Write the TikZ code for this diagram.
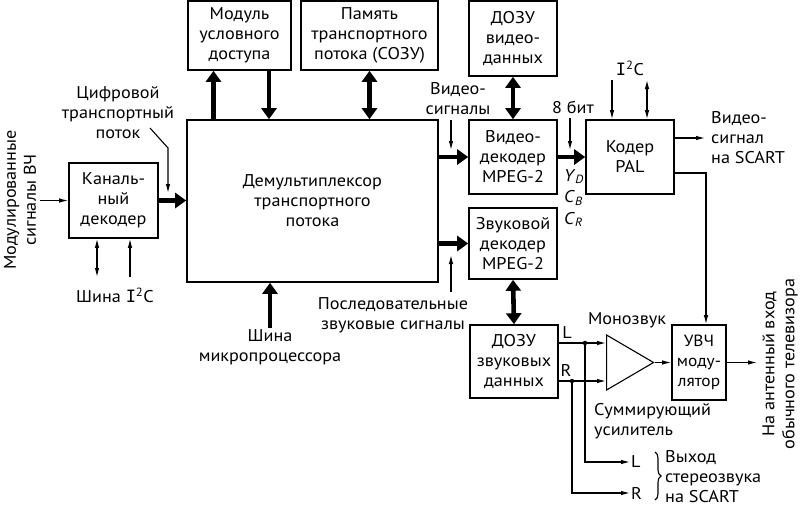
\documentclass[tikz,border=0pt]{standalone}
\usepackage{fontspec}
\setmainfont{PT Sans}[FakeStretch=1.07]
\newfontfamily\slabfont{DejaVu Sans Mono}
\usepackage{tikz}
\usetikzlibrary{arrows.meta, positioning, calc, shapes.geometric, decorations.pathreplacing}

\newcommand{\lblfont}{\fontsize{17}{20}\selectfont}
\newcommand{\busIIC}{{\slabfont I}\textsuperscript{2}C}

\tikzset{
  blk/.style={rectangle, draw, line width=1.6pt, align=center, inner sep=0pt, font=\lblfont},
  txt/.style={align=center, inner sep=1pt, font=\lblfont},
  bus/.style={line width=4.6pt, -{Triangle[length=11pt,width=15pt]}},
  busboth/.style={line width=4.6pt, {Triangle[length=11pt,width=15pt]}-{Triangle[length=11pt,width=15pt]}},
  sig/.style={line width=1.1pt, -{Latex[length=9pt,width=4.5pt]}},
  sigboth/.style={line width=1.1pt, {Latex[length=9pt,width=4.5pt]}-{Latex[length=9pt,width=4.5pt]}},
  wire/.style={line width=1.1pt},
  dot/.style={circle, fill, inner sep=0pt, minimum size=4.5pt}
}

\begin{document}
\begin{tikzpicture}[x=1pt, y=-1pt]
    \useasboundingbox (0,0) rectangle (800,507);

    % Blocks
    \node[blk, minimum width=89pt, minimum height=75pt] (chdec) at (113.5,200.5) {Каналь-\\ный\\декодер};
    \node[blk, minimum width=251pt, minimum height=162pt] (demux) at (312.5,201) {Демультиплексор\\транспортного\\потока};
    \node[blk, minimum width=103pt, minimum height=69pt] (cam) at (239.5,35.5) {Модуль\\условного\\доступа};
    \node[blk, minimum width=137pt, minimum height=69pt] (tsmem) at (369.5,35.5) {Память\\транспортного\\потока (СОЗУ)};
    \node[blk, minimum width=88pt, minimum height=75pt] (vram) at (513,38.5) {ДОЗУ\\видео-\\данных};
    \node[blk, minimum width=88pt, minimum height=74pt] (vdec) at (513,157) {Видео-\\декодер\\MPEG-2};
    \node[blk, minimum width=88pt, minimum height=74pt] (pal) at (630,157) {Кодер\\PAL};
    \node[blk, minimum width=88pt, minimum height=71pt] (adec) at (513,243.5) {Звуковой\\декодер\\MPEG-2};
    \node[blk, minimum width=88pt, minimum height=73pt] (aram) at (514,361.5) {ДОЗУ\\звуковых\\данных};
    \node[blk, minimum width=54pt, minimum height=75pt, font=\fontsize{16.2}{20}\selectfont] (uhf) at (699,362.5) {УВЧ\\моду-\\лятор};
    \node[isosceles triangle, isosceles triangle stretches, draw, line width=1.1pt, inner sep=0pt,
          minimum width=55pt, minimum height=47pt, anchor=lower side] (amp) at (606,362.5) {};

    % Labels
    \node[txt, rotate=90] (rflbl) at (20,200) {Модулированные\\сигналы ВЧ};
    \node[txt] (tslbl) at (118,113) {Цифровой\\транспортный\\поток};
    \node[txt] (i2clbl) at (115,295) {Шина \busIIC};
    \node[txt] (mplbl) at (270,347) {Шина\\микропроцессора};
    \node[txt] (vslbl) at (458,99) {Видео-\\сигналы};
    \node[txt] (aslbl) at (393,315) {Последовательные\\звуковые сигналы};
    \node[txt] (bitlbl) at (573,107) {8 бит};
    \node[txt, align=left, font=\fontsize{17}{21.5}\selectfont] (ycclbl) at (574,198)
        {\textit{Y}\textsubscript{\textit{D}}\\\textit{C}\textsubscript{\textit{B}}\\\textit{C}\textsubscript{\textit{R}}};
    \node[txt] (pali2c) at (630,68) {\busIIC};
    \node[txt, align=left, anchor=west] (voutlbl) at (710,138) {Видео-\\сигнал\\на SCART};
    \node[txt] (monolbl) at (627,320) {Монозвук};
    \node[txt] (llbl) at (567,333) {L};
    \node[txt] (rlbl) at (566,370) {R};
    \node[txt, align=left, anchor=west] (sumlbl) at (593,421) {Суммирующий\\усилитель};
    \node[txt, anchor=west] (outl) at (630,462) {L};
    \node[txt, anchor=west] (outr) at (630,493) {R};
    \node[txt, align=left, anchor=west] (stlbl) at (664,477) {Выход\\стереозвука\\на SCART};
    \node[txt, rotate=90] (antlbl) at (780,364) {На антенный вход\\обычного телевизора};

    % Free ends
    \coordinate (rfin) at (40,200.5);
    \coordinate (ts1) at (150,128);
    \coordinate (ts2) at (168,148);
    \coordinate (ts3) at (168,193);
    \coordinate (i2ca) at (97,277);
    \coordinate (i2cb) at (130,277);
    \coordinate (vs1) at (451,120);
    \coordinate (vs2) at (451,150);
    \coordinate (as1) at (451,292);
    \coordinate (as2) at (451,255);
    \coordinate (bit1) at (570,118);
    \coordinate (bit2) at (570,150);
    \coordinate (pi2ca) at (612,80);
    \coordinate (pi2cb) at (647,80);
    \coordinate (vout) at (705,138);
    \coordinate (ampl) at (606,343);
    \coordinate (ampr) at (606,381);
    \coordinate (antout) at (757,362.5);

    % Channel decoder
    \draw[sig] (rfin) -- (chdec.west);
    \draw[sigboth] (chdec.south -| i2ca) -- (i2ca);
    \draw[sig] (i2cb) -- (chdec.south -| i2cb);
    \draw[sig] (ts1) -- (ts2) -- (ts3);
    \draw[bus] (chdec.east) -- (chdec.east -| demux.west);

    % Demultiplexer
    \draw[bus] ([xshift=-26pt]cam.south |- demux.north) -- ([xshift=-26pt]cam.south);
    \draw[bus] ([xshift=29.5pt]cam.south) -- ([xshift=29.5pt]cam.south |- demux.north);
    \draw[busboth] (tsmem.south) -- (tsmem.south |- demux.north);
    \draw[bus] (mplbl.north) -- (mplbl.north |- demux.south);
    \draw[bus] (demux.east |- vdec.west) -- (vdec.west);
    \draw[bus] (demux.east |- adec.west) -- (adec.west);
    \draw[sig] (vs1) -- (vs2);
    \draw[sig] (as1) -- (as2);

    % Video path
    \draw[busboth] (vram.south) -- (vdec.north);
    \draw[bus] (vdec.east) -- (pal.west);
    \draw[sig] (bit1) -- (bit2);
    \draw[sig] (pi2ca) -- (pi2ca |- pal.north);
    \draw[sigboth] (pi2cb) -- (pi2cb |- pal.north);
    \draw[sig] ([yshift=19pt]pal.east) -- (vout);
    \draw[sig] ([yshift=-16pt]pal.east) -| ([xshift=7pt]uhf.north);

    % Audio path
    \draw[busboth] (adec.south) -- (aram.north);
    \draw[sig] (aram.east |- ampl) -- (ampl);
    \draw[sig] (aram.east |- ampr) -- (ampr);
    \node[dot] (dotl) at (585,343) {};
    \node[dot] (dotr) at (572,381) {};
    \draw[sig] (dotl) |- (outl.west);
    \draw[sig] (dotr) |- (outr.west);
    \draw[sig] (amp.apex) -- (uhf.west);
    \draw[sig] (uhf.east) -- (antout);
    \draw[wire, decorate, decoration={brace, amplitude=6pt}] (655,452) -- (655,500);
\end{tikzpicture}
\end{document}
